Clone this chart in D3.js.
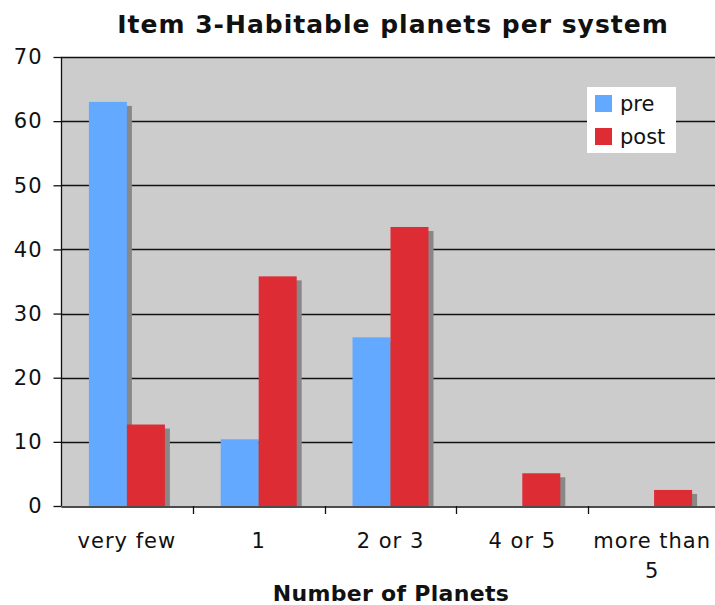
<!DOCTYPE html>
<html>
<head>
<meta charset="utf-8">
<script src="https://cdn.jsdelivr.net/npm/d3@7"></script>
<style>
  html, body { margin: 0; padding: 0; background: #fff; }
  svg { display: block; font-family: "DejaVu Sans", Verdana, sans-serif; }
</style>
</head>
<body>
<svg id="chart" width="715" height="605"></svg>
<script>
// Survey responses: percentage of students per answer, before and after
const categories = ["very few", "1", "2 or 3", "4 or 5", "more than 5"];
const seriesNames = ["pre", "post"];
const preValues  = [63.0, 10.4, 26.3, 0, 0];
const postValues = [12.7, 35.8, 43.5, 5.1, 2.5];
const yTicks = [0, 10, 20, 30, 40, 50, 60, 70];
const colors = { pre: "#63a9ff", post: "#dd2c34" };

const svg = d3.select("#chart");
const margin = { left: 61, top: 57, right: -5, bottom: 99 };
const W = 715, H = 605;
const plotW = W - margin.left - margin.right;
const plotH = H - margin.top - margin.bottom;

const x = d3.scaleBand().domain(categories).range([margin.left, margin.left + plotW]);
const y = d3.scaleLinear().domain([0, 70]).range([margin.top + plotH, margin.top]);

// plot background
svg.append("rect")
  .attr("x", margin.left).attr("y", margin.top)
  .attr("width", plotW).attr("height", plotH)
  .attr("fill", "#cccccc");

// horizontal gridlines
svg.append("g").selectAll("line").data(yTicks.filter(d => d > 0)).join("line")
  .attr("x1", margin.left).attr("x2", margin.left + plotW)
  .attr("y1", d => Math.round(y(d)) + 0.5).attr("y2", d => Math.round(y(d)) + 0.5)
  .attr("stroke", "#111").attr("stroke-width", 1.3);

// bar geometry: two bars side by side, centred in each category band
const groupW = 76;
const barW = groupW / 2;
const gx = c => x(c) + (x.bandwidth() - groupW) / 2;
const bx = (c, s) => gx(c) + seriesNames.indexOf(s) * barW;

const flat = categories.flatMap((c, i) => [
  { cat: c, s: "pre", v: preValues[i] },
  { cat: c, s: "post", v: postValues[i] }
]).filter(d => d.v > 0);

// drop shadows
svg.append("g").selectAll("rect").data(flat).join("rect")
  .attr("x", d => bx(d.cat, d.s) + 5)
  .attr("y", d => y(d.v) + 4)
  .attr("width", barW)
  .attr("height", d => y(0) - y(d.v) - 4)
  .attr("fill", "#888888");

// bars
svg.append("g").selectAll("rect").data(flat).join("rect")
  .attr("x", d => bx(d.cat, d.s))
  .attr("y", d => y(d.v))
  .attr("width", barW)
  .attr("height", d => y(0) - y(d.v))
  .attr("fill", d => colors[d.s]);

// y axis
const yAxis = d3.axisLeft(y).tickValues(yTicks).tickSize(8).tickPadding(11);
const gy = svg.append("g").attr("transform", `translate(${margin.left + 0.5},0)`).call(yAxis);
gy.select(".domain").attr("stroke", "#111").attr("stroke-width", 1.3).attr("d", `M0,${margin.top}V${y(0)}`);
gy.selectAll(".tick line").attr("stroke", "#111").attr("stroke-width", 1.3);
gy.selectAll(".tick text").attr("font-size", 21).attr("letter-spacing", 1).attr("fill", "#111")
  .attr("font-family", "DejaVu Sans, Verdana, sans-serif");

// x axis line
const xAxis = d3.axisBottom(x).tickSize(0).tickPadding(0);
const gxAxis = svg.append("g").attr("transform", `translate(0,${Math.round(y(0)) + 0.5})`).call(xAxis);
gxAxis.select(".domain").attr("stroke", "#111").attr("stroke-width", 1.3);
gxAxis.selectAll(".tick text").remove();
// category dividers
svg.append("g").selectAll("line").data(categories.slice(1)).join("line")
  .attr("x1", d => Math.round(x(d)) + 0.5).attr("x2", d => Math.round(x(d)) + 0.5)
  .attr("y1", y(0)).attr("y2", y(0) + 8)
  .attr("stroke", "#111").attr("stroke-width", 1.3);

// category labels (wrapped)
const labelLines = { "more than 5": ["more than", "5"] };
svg.append("g").selectAll("text").data(categories).join("text")
  .attr("x", d => x(d) + x.bandwidth() / 2 - (d === "more than 5" ? 2 : 0))
  .attr("y", 548)
  .attr("text-anchor", "middle")
  .attr("font-size", 21).attr("letter-spacing", 1).attr("fill", "#111")
  .each(function(d) {
    const lines = labelLines[d] || [d];
    d3.select(this).selectAll("tspan").data(lines).join("tspan")
      .attr("x", d3.select(this).attr("x"))
      .attr("dy", (l, i) => i === 0 ? 0 : 30)
      .text(l => l);
  });

// axis title
svg.append("text")
  .attr("x", 391).attr("y", 601)
  .attr("text-anchor", "middle")
  .attr("font-size", 22).attr("letter-spacing", 0.3).attr("font-weight", "bold").attr("fill", "#111")
  .text("Number of Planets");

// chart title
svg.append("text")
  .attr("x", 393).attr("y", 33)
  .attr("text-anchor", "middle")
  .attr("font-size", 25).attr("letter-spacing", 1).attr("font-weight", "bold").attr("fill", "#111")
  .text("Item 3-Habitable planets per system");

// legend
const lg = svg.append("g").attr("transform", "translate(587,87)");
lg.append("rect").attr("width", 89).attr("height", 66).attr("fill", "#fff");
seriesNames.forEach((s, i) => {
  lg.append("rect").attr("x", 8).attr("y", 8 + i * 33).attr("width", 17).attr("height", 17)
    .attr("fill", colors[s]);
  lg.append("text").attr("x", 33).attr("y", 24 + i * 33)
    .attr("font-size", 21).attr("fill", "#111").text(s);
});
</script>
</body>
</html>
